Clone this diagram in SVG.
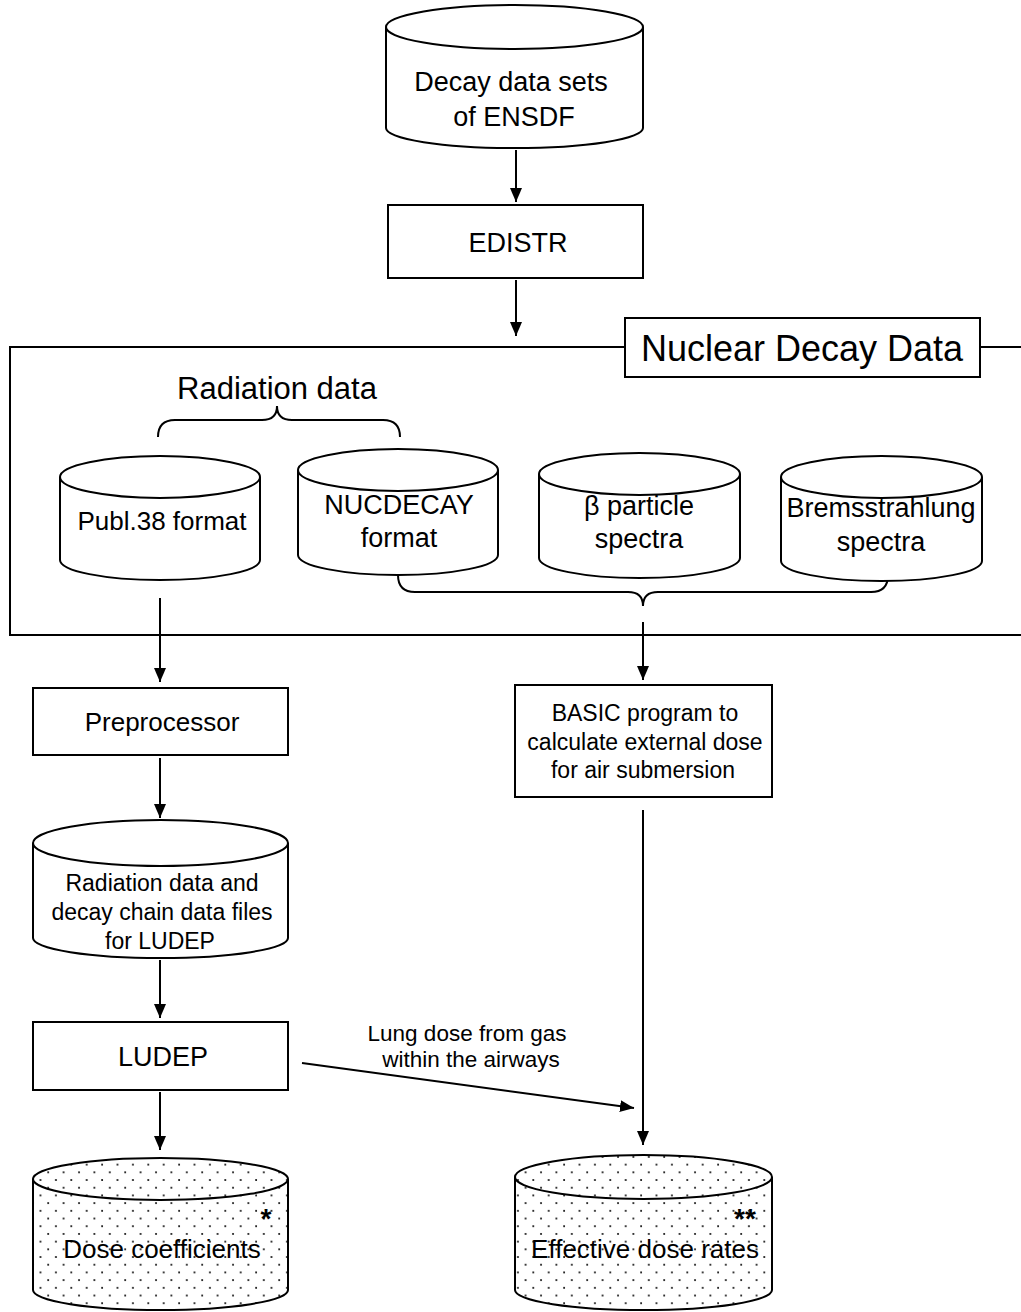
<svg xmlns="http://www.w3.org/2000/svg" width="1021" height="1312" viewBox="0 0 1021 1312">
<defs>
<style>
.s{fill:none;stroke:#000;stroke-width:2}
.w{fill:#fff;stroke:#000;stroke-width:2}
.d{fill:url(#dots);stroke:#000;stroke-width:2}
text{font-family:"Liberation Sans",Arial,sans-serif;fill:#000;text-anchor:middle}
.t27{font-size:27px}
.t23{font-size:23px}
.star{font-size:28px;font-weight:bold}
</style>
<pattern id="dots" width="15.4" height="15.4" patternUnits="userSpaceOnUse">
<rect width="15.4" height="15.4" fill="#fff"/>
<circle cx="2" cy="2" r="1" fill="#000"/>
<circle cx="9.7" cy="9.7" r="1" fill="#000"/>
</pattern>
<marker id="ah" viewBox="0 0 14 12" refX="14" refY="6" markerWidth="14" markerHeight="12" markerUnits="userSpaceOnUse" orient="auto">
<path d="M0,0 L14,6 L0,12 Z" fill="#000"/>
</marker>
</defs>

<g id="connectors">
<line class="s" x1="516" y1="150" x2="516" y2="202" marker-end="url(#ah)"/>
<line class="s" x1="516" y1="280" x2="516" y2="336" marker-end="url(#ah)"/>
<line class="s" x1="160" y1="598" x2="160" y2="682" marker-end="url(#ah)"/>
<line class="s" x1="643" y1="622" x2="643" y2="680" marker-end="url(#ah)"/>
<line class="s" x1="160" y1="758" x2="160" y2="818" marker-end="url(#ah)"/>
<line class="s" x1="160" y1="960" x2="160" y2="1018" marker-end="url(#ah)"/>
<line class="s" x1="160" y1="1092" x2="160" y2="1150" marker-end="url(#ah)"/>
<line class="s" x1="643" y1="810" x2="643" y2="1145" marker-end="url(#ah)"/>
<line class="s" x1="302" y1="1063" x2="634" y2="1108" marker-end="url(#ah)"/>
<text x="467" y="1041" style="font-size:22.5px">Lung dose from gas</text>
<text x="471" y="1067" style="font-size:22.5px">within the airways</text>
</g>

<g id="ensdf">
<path class="w" d="M386,27 L386,128 A128.5,20 0 0 0 643,128 L643,27"/>
<ellipse class="w" cx="514.5" cy="27" rx="128.5" ry="22"/>
<text class="t27" x="511" y="91">Decay data sets</text>
<text class="t27" x="514" y="126">of ENSDF</text>
</g>

<g id="edistr">
<rect class="w" x="388" y="205" width="255" height="73"/>
<text class="t27" x="518" y="252">EDISTR</text>
</g>

<g id="nuclear-decay-data">
<path class="s" d="M625,347 L10,347 L10,635 L1021,635 M980,347 L1021,347"/>
<rect class="w" x="625" y="318" width="355" height="59"/>
<text x="802" y="361" style="font-size:36px">Nuclear Decay Data</text>
<text x="277" y="399" style="font-size:31px">Radiation data</text>
<path class="s" d="M158,437 Q158,420 175,420 L262,420 Q277,420 277,406 Q277,420 292,420 L383,420 Q400,420 400,437"/>
<path class="s" d="M398,575 Q398,592 415,592 L628,592 Q643,592 643,606 Q643,592 658,592 L871,592 Q888,592 888,575"/>
</g>

<g id="publ38">
<path class="w" d="M60,477 L60,560 A100,20 0 0 0 260,560 L260,477"/>
<ellipse class="w" cx="160" cy="477" rx="100" ry="21"/>
<text x="162" y="530" style="font-size:26px">Publ.38 format</text>
</g>

<g id="nucdecay">
<path class="w" d="M298,470 L298,555 A100,20 0 0 0 498,555 L498,470"/>
<ellipse class="w" cx="398" cy="470" rx="100" ry="21"/>
<text class="t27" x="399" y="514">NUCDECAY</text>
<text class="t27" x="399" y="547">format</text>
</g>

<g id="beta">
<path class="w" d="M539,474 L539,558 A100.5,20 0 0 0 740,558 L740,474"/>
<ellipse class="w" cx="639.5" cy="474" rx="100.5" ry="21"/>
<text class="t27" x="639" y="515">β particle</text>
<text class="t27" x="639" y="548">spectra</text>
</g>

<g id="brems">
<path class="w" d="M781,477 L781,561 A100.5,20 0 0 0 982,561 L982,477"/>
<ellipse class="w" cx="881.5" cy="477" rx="100.5" ry="21"/>
<text class="t27" x="881" y="517">Bremsstrahlung</text>
<text class="t27" x="881" y="551">spectra</text>
</g>

<g id="preprocessor">
<rect class="w" x="33" y="688" width="255" height="67"/>
<text x="162" y="731" style="font-size:26px">Preprocessor</text>
</g>

<g id="basic">
<rect class="w" x="515" y="685" width="257" height="112"/>
<text class="t23" x="645" y="721">BASIC program to</text>
<text class="t23" x="645" y="750">calculate external dose</text>
<text class="t23" x="643" y="778">for air submersion</text>
</g>

<g id="ludep-data">
<path class="w" d="M33,843 L33,938 A127.5,20 0 0 0 288,938 L288,843"/>
<ellipse class="w" cx="160.5" cy="843" rx="127.5" ry="23"/>
<text class="t23" x="162" y="891">Radiation data and</text>
<text class="t23" x="162" y="920">decay chain data files</text>
<text class="t23" x="160" y="949">for LUDEP</text>
</g>

<g id="ludep">
<rect class="w" x="33" y="1022" width="255" height="68"/>
<text class="t27" x="163" y="1066">LUDEP</text>
</g>

<g id="dose-coefficients">
<path class="d" d="M33,1179 L33,1290 A127.5,20 0 0 0 288,1290 L288,1179"/>
<ellipse class="d" cx="160.5" cy="1179" rx="127.5" ry="21"/>
<text x="162" y="1258" style="font-size:26px">Dose coefficients</text>
<text class="star" x="266" y="1228">*</text>
</g>

<g id="effective-dose-rates">
<path class="d" d="M515,1177 L515,1290 A128.5,20 0 0 0 772,1290 L772,1177"/>
<ellipse class="d" cx="643.5" cy="1177" rx="128.5" ry="22"/>
<text x="645" y="1258" style="font-size:26px">Effective dose rates</text>
<text class="star" x="745" y="1228">**</text>
</g>
</svg>
